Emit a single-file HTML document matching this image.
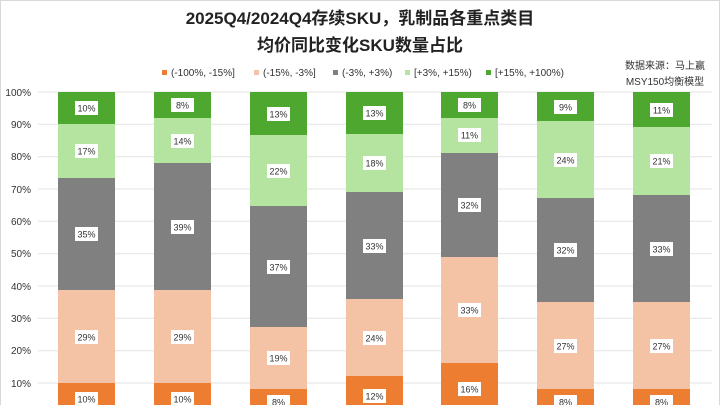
<!DOCTYPE html>
<html><head><meta charset="utf-8"><style>
body{margin:0;width:720px;height:405px;overflow:hidden;background:#fff}
.l{font-size:9px;fill:#333;text-anchor:middle}
</style></head><body>
<svg width="720" height="405" xmlns="http://www.w3.org/2000/svg" font-family="Liberation Sans, Noto Sans CJK SC, sans-serif">
<rect x="0.5" y="0.5" width="719" height="410" fill="#fff" stroke="#d9d9d9"/>
<text x="360" y="24" text-anchor="middle" font-size="17" font-weight="bold" fill="#222">2025Q4/2024Q4存续SKU，乳制品各重点类目</text>
<text x="360" y="51" text-anchor="middle" font-size="17" font-weight="bold" fill="#222">均价同比变化SKU数量占比</text>
<text x="665" y="69" text-anchor="middle" font-size="10" fill="#333">数据来源：马上赢</text>
<text x="665" y="85" text-anchor="middle" font-size="10" fill="#333">MSY150均衡模型</text>
<g font-size="10" fill="#333">
<rect x="162" y="70" width="5" height="5" fill="#ed7d31"/><text x="171" y="76">(-100%, -15%]</text>
<rect x="254" y="70" width="5" height="5" fill="#f4c3a6"/><text x="263" y="76">(-15%, -3%]</text>
<rect x="333" y="70" width="5" height="5" fill="#808080"/><text x="342" y="76">(-3%, +3%)</text>
<rect x="405" y="70" width="5" height="5" fill="#b5e3a0"/><text x="414" y="76">[+3%, +15%)</text>
<rect x="486" y="70" width="5" height="5" fill="#4ea72e"/><text x="495" y="76">[+15%, +100%)</text>
</g>
<g stroke="#e3e3e3" stroke-width="1">
<line x1="38" x2="712" y1="92" y2="92"/><line x1="38" x2="712" y1="124.3" y2="124.3"/><line x1="38" x2="712" y1="156.7" y2="156.7"/><line x1="38" x2="712" y1="189" y2="189"/><line x1="38" x2="712" y1="221.3" y2="221.3"/><line x1="38" x2="712" y1="253.7" y2="253.7"/><line x1="38" x2="712" y1="286" y2="286"/><line x1="38" x2="712" y1="318.3" y2="318.3"/><line x1="38" x2="712" y1="350.7" y2="350.7"/><line x1="38" x2="712" y1="383" y2="383"/>
</g>
<g font-size="10" fill="#333" text-anchor="end">
<text x="31" y="96">100%</text><text x="31" y="128">90%</text><text x="31" y="160">80%</text><text x="31" y="193">70%</text><text x="31" y="225">60%</text><text x="31" y="257">50%</text><text x="31" y="290">40%</text><text x="31" y="322">30%</text><text x="31" y="354">20%</text><text x="31" y="387">10%</text>
</g>

<!-- Bar 1 -->
<rect x="58" y="383" width="57" height="32" fill="#ed7d31"/>
<rect x="58" y="290" width="57" height="93" fill="#f4c3a6"/>
<rect x="58" y="178" width="57" height="112" fill="#808080"/>
<rect x="58" y="124" width="57" height="54" fill="#b5e3a0"/>
<rect x="58" y="92" width="57" height="32" fill="#4ea72e"/>
<g fill="#fff"><rect x="75" y="392" width="23" height="14"/><rect x="75" y="330" width="23" height="14"/><rect x="75" y="227" width="23" height="14"/><rect x="75" y="144" width="23" height="14"/><rect x="75" y="101" width="23" height="14"/></g>
<text class="l" x="86.5" y="402.5">10%</text><text class="l" x="86.5" y="340.5">29%</text><text class="l" x="86.5" y="237.5">35%</text><text class="l" x="86.5" y="154.5">17%</text><text class="l" x="86.5" y="111.5">10%</text>

<!-- Bar 2 -->
<rect x="154" y="383" width="57" height="32" fill="#ed7d31"/>
<rect x="154" y="290" width="57" height="93" fill="#f4c3a6"/>
<rect x="154" y="163" width="57" height="127" fill="#808080"/>
<rect x="154" y="118" width="57" height="45" fill="#b5e3a0"/>
<rect x="154" y="92" width="57" height="26" fill="#4ea72e"/>
<g fill="#fff"><rect x="171" y="392" width="23" height="14"/><rect x="171" y="330" width="23" height="14"/><rect x="171" y="220" width="23" height="14"/><rect x="171" y="134" width="23" height="14"/><rect x="171" y="98" width="23" height="14"/></g>
<text class="l" x="182.5" y="402.5">10%</text><text class="l" x="182.5" y="340.5">29%</text><text class="l" x="182.5" y="230.5">39%</text><text class="l" x="182.5" y="144.5">14%</text><text class="l" x="182.5" y="108.5">8%</text>

<!-- Bar 3 -->
<rect x="250" y="389" width="57" height="26" fill="#ed7d31"/>
<rect x="250" y="327" width="57" height="62" fill="#f4c3a6"/>
<rect x="250" y="206" width="57" height="121" fill="#808080"/>
<rect x="250" y="135" width="57" height="71" fill="#b5e3a0"/>
<rect x="250" y="92" width="57" height="43" fill="#4ea72e"/>
<g fill="#fff"><rect x="267" y="395" width="23" height="14"/><rect x="267" y="351" width="23" height="14"/><rect x="267" y="260" width="23" height="14"/><rect x="267" y="164" width="23" height="14"/><rect x="267" y="107" width="23" height="14"/></g>
<text class="l" x="278.5" y="405.5">8%</text><text class="l" x="278.5" y="361.5">19%</text><text class="l" x="278.5" y="270.5">37%</text><text class="l" x="278.5" y="174.5">22%</text><text class="l" x="278.5" y="117.5">13%</text>

<!-- Bar 4 -->
<rect x="346" y="376" width="57" height="39" fill="#ed7d31"/>
<rect x="346" y="299" width="57" height="77" fill="#f4c3a6"/>
<rect x="346" y="192" width="57" height="107" fill="#808080"/>
<rect x="346" y="134" width="57" height="58" fill="#b5e3a0"/>
<rect x="346" y="92" width="57" height="42" fill="#4ea72e"/>
<g fill="#fff"><rect x="363" y="389" width="23" height="14"/><rect x="363" y="331" width="23" height="14"/><rect x="363" y="239" width="23" height="14"/><rect x="363" y="156" width="23" height="14"/><rect x="363" y="106" width="23" height="14"/></g>
<text class="l" x="374.5" y="399.5">12%</text><text class="l" x="374.5" y="341.5">24%</text><text class="l" x="374.5" y="249.5">33%</text><text class="l" x="374.5" y="166.5">18%</text><text class="l" x="374.5" y="116.5">13%</text>

<!-- Bar 5 -->
<rect x="441" y="363" width="57" height="52" fill="#ed7d31"/>
<rect x="441" y="257" width="57" height="106" fill="#f4c3a6"/>
<rect x="441" y="153" width="57" height="104" fill="#808080"/>
<rect x="441" y="118" width="57" height="35" fill="#b5e3a0"/>
<rect x="441" y="92" width="57" height="26" fill="#4ea72e"/>
<g fill="#fff"><rect x="458" y="382" width="23" height="14"/><rect x="458" y="303" width="23" height="14"/><rect x="458" y="198" width="23" height="14"/><rect x="458" y="128" width="23" height="14"/><rect x="458" y="98" width="23" height="14"/></g>
<text class="l" x="469.5" y="392.5">16%</text><text class="l" x="469.5" y="313.5">33%</text><text class="l" x="469.5" y="208.5">32%</text><text class="l" x="469.5" y="138.5">11%</text><text class="l" x="469.5" y="108.5">8%</text>

<!-- Bar 6 -->
<rect x="537" y="389" width="57" height="26" fill="#ed7d31"/>
<rect x="537" y="302" width="57" height="87" fill="#f4c3a6"/>
<rect x="537" y="198" width="57" height="104" fill="#808080"/>
<rect x="537" y="121" width="57" height="77" fill="#b5e3a0"/>
<rect x="537" y="92" width="57" height="29" fill="#4ea72e"/>
<g fill="#fff"><rect x="554" y="395" width="23" height="14"/><rect x="554" y="339" width="23" height="14"/><rect x="554" y="243" width="23" height="14"/><rect x="554" y="153" width="23" height="14"/><rect x="554" y="100" width="23" height="14"/></g>
<text class="l" x="565.5" y="405.5">8%</text><text class="l" x="565.5" y="349.5">27%</text><text class="l" x="565.5" y="253.5">32%</text><text class="l" x="565.5" y="163.5">24%</text><text class="l" x="565.5" y="110.5">9%</text>

<!-- Bar 7 -->
<rect x="633" y="389" width="57" height="26" fill="#ed7d31"/>
<rect x="633" y="302" width="57" height="87" fill="#f4c3a6"/>
<rect x="633" y="195" width="57" height="107" fill="#808080"/>
<rect x="633" y="127" width="57" height="68" fill="#b5e3a0"/>
<rect x="633" y="92" width="57" height="35" fill="#4ea72e"/>
<g fill="#fff"><rect x="650" y="395" width="23" height="14"/><rect x="650" y="339" width="23" height="14"/><rect x="650" y="242" width="23" height="14"/><rect x="650" y="154" width="23" height="14"/><rect x="650" y="103" width="23" height="14"/></g>
<text class="l" x="661.5" y="405.5">8%</text><text class="l" x="661.5" y="349.5">27%</text><text class="l" x="661.5" y="252.5">33%</text><text class="l" x="661.5" y="164.5">21%</text><text class="l" x="661.5" y="113.5">11%</text>
</svg>
</body></html>
